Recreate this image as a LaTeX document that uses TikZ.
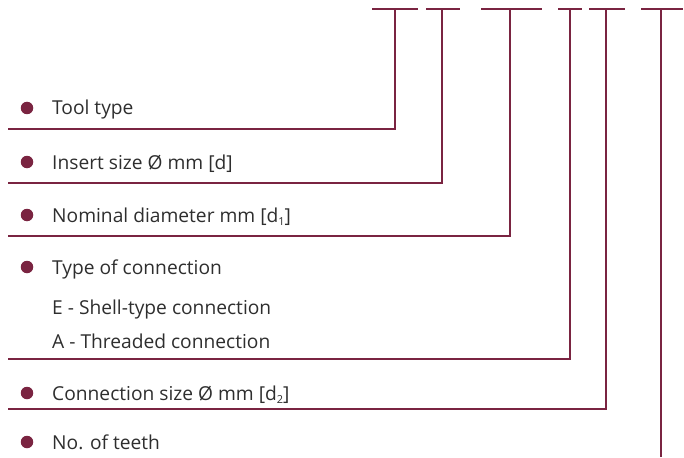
\documentclass[tikz,border=0pt]{standalone}
\usepackage{fontspec}
\setmainfont{Open Sans}
\definecolor{maroon}{HTML}{7A2441}
\definecolor{txt}{HTML}{2E2E2E}
\newcommand{\dsub}[1]{\raisebox{-0.35ex}{\fontsize{11}{12}\selectfont #1}}
\begin{document}
\begin{tikzpicture}[x=1pt,y=-1pt,
  lbl/.style={anchor=base west,inner sep=0pt,text=txt,font=\fontsize{19.2}{22}\selectfont},
  dot/.style={circle,fill=maroon,inner sep=0pt,minimum size=12.5pt},
  ln/.style={draw=maroon,line width=1.6pt}]
\useasboundingbox (0,0) rectangle (684,457);
% bullets and labels
\node[dot] (b1) at (27,108) {};
\node[lbl] (t1) at (52,115) {Tool type};
\node[dot] (b2) at (27,162) {};
\node[lbl] (t2) at (52,169) {Insert size Ø mm [d]};
\node[dot] (b3) at (27,215) {};
\node[lbl] (t3) at (52,222) {Nominal diameter mm [d\dsub{1}]};
\node[dot] (b4) at (27,267) {};
\node[lbl] (t4) at (52,274) {Type of connection};
\node[lbl] (t4a) at (52,314) {E - Shell-type connection};
\node[lbl] (t4b) at (52,348) {A - Threaded connection};
\node[dot] (b5) at (27,393) {};
\node[lbl] (t5) at (52,400) {Connection size Ø mm [d\dsub{2}]};
\node[dot] (b6) at (27,442) {};
\node[lbl] (t6) at (52,449) {No. of teeth};
% top code dashes
\coordinate (c1) at (395,9); \coordinate (d1l) at (372,9); \coordinate (d1r) at (418,9);
\coordinate (c2) at (442,9); \coordinate (d2l) at (426,9); \coordinate (d2r) at (460,9);
\coordinate (c3) at (510,9); \coordinate (d3l) at (481,9); \coordinate (d3r) at (542,9);
\coordinate (c4) at (570,9); \coordinate (d4l) at (558,9); \coordinate (d4r) at (582,9);
\coordinate (c5) at (606,9); \coordinate (d5l) at (589,9); \coordinate (d5r) at (625,9);
\coordinate (c6) at (661,9); \coordinate (d6l) at (641,9); \coordinate (d6r) at (683,9);
\foreach \i in {1,...,6} \draw[ln] (d\i l) -- (d\i r);
% leader lines
\coordinate (e1) at (8,129); \coordinate (e2) at (8,183); \coordinate (e3) at (8,236);
\coordinate (e4) at (8,359); \coordinate (e5) at (8,409); \coordinate (e6) at (661,457);
\draw[ln] (e1) -| (c1);
\draw[ln] (e2) -| (c2);
\draw[ln] (e3) -| (c3);
\draw[ln] (e4) -| (c4);
\draw[ln] (e5) -| (c5);
\draw[ln] (e6) -- (c6);
\end{tikzpicture}
\end{document}
